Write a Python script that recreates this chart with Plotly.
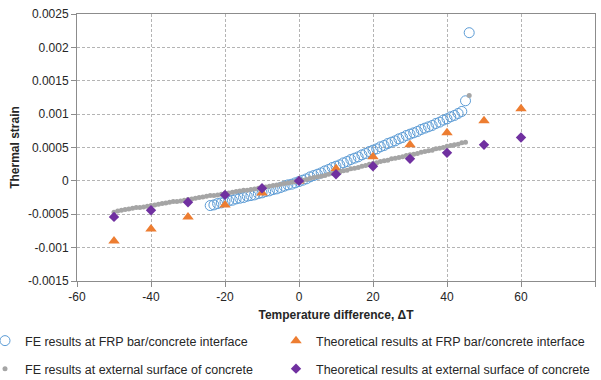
import plotly.graph_objects as go

# FE results at FRP bar/concrete interface (dense series, 1 °C step)
fe_int_x = list(range(-24, 45)) + [45, 46]
fe_int_y = [
    -0.00037, -0.00036, -0.00034, -0.00033, -0.00031, -0.00030, -0.00029, -0.00027,
    -0.00026, -0.00025, -0.00023, -0.00022, -0.00021, -0.00019, -0.00018, -0.00016,
    -0.00015, -0.00013, -0.00012, -0.00010, -0.00008, -0.00006, -0.00005, -0.00003,
    -0.00001, 0.00001, 0.00003, 0.00006, 0.00008, 0.00010, 0.00012, 0.00015,
    0.00017, 0.00020, 0.00022, 0.00024, 0.00027, 0.00029, 0.00032, 0.00034,
    0.00036, 0.00039, 0.00041, 0.00044, 0.00046, 0.00048, 0.00051, 0.00053,
    0.00056, 0.00058, 0.00060, 0.00063, 0.00065, 0.00068, 0.00070, 0.00072,
    0.00074, 0.00077, 0.00079, 0.00081, 0.00083, 0.00086, 0.00088, 0.00091,
    0.00093, 0.00096, 0.00098, 0.00101, 0.00104,
    0.00120, 0.00222,
]

# FE results at external surface of concrete (dense series, 1 °C step)
fe_ext_x = list(range(-50, 46)) + [46]
fe_ext_y = [
    -0.00047, -0.00045, -0.00044, -0.00043, -0.00042, -0.00041, -0.00040, -0.00040,
    -0.00039, -0.00038, -0.00037, -0.00036, -0.00035, -0.00034, -0.00033, -0.00032,
    -0.00031, -0.00031, -0.00030, -0.00029, -0.00028, -0.00027, -0.00026, -0.00025,
    -0.00024, -0.00023, -0.00022, -0.00022, -0.00021, -0.00020, -0.00019, -0.00018,
    -0.00017, -0.00016, -0.00015, -0.00014, -0.00014, -0.00013, -0.00012, -0.00011,
    -0.00010, -0.00009, -0.00008, -0.00007, -0.00006, -0.00005, -0.00004, -0.00003,
    -0.00002, -0.00001, 0.00000, 0.00001, 0.00002, 0.00004, 0.00005, 0.00006,
    0.00007, 0.00008, 0.00010, 0.00011, 0.00012, 0.00013, 0.00015, 0.00016,
    0.00018, 0.00019, 0.00020, 0.00022, 0.00023, 0.00025, 0.00026, 0.00027,
    0.00029, 0.00030, 0.00031, 0.00033, 0.00034, 0.00035, 0.00036, 0.00038,
    0.00039, 0.00040, 0.00041, 0.00043, 0.00044, 0.00045, 0.00046, 0.00048,
    0.00049, 0.00050, 0.00052, 0.00053, 0.00054, 0.00055, 0.00057, 0.00058,
    0.00128,
]

# Theoretical results
theo_x = [-50, -40, -30, -20, -10, 0, 10, 20, 30, 40, 50, 60]
theo_int_y = [-0.00090, -0.00072, -0.00054, -0.00036, -0.00018, 0.0,
              0.00018, 0.00036, 0.00054, 0.00072, 0.00090, 0.00108]
theo_ext_y = [-0.00054, -0.00044, -0.00032, -0.00021, -0.00011, 0.0,
              0.00010, 0.00022, 0.00033, 0.00042, 0.00054, 0.00065]

x_ticks = [-60, -40, -20, 0, 20, 40, 60, 80]
x_ticktext = ["-60", "-40", "-20", "0", "20", "40", "60", "80"]
y_ticks = [-0.0015, -0.001, -0.0005, 0, 0.0005, 0.001, 0.0015, 0.002, 0.0025]
y_ticktext = ["-0.0015", "-0.001", "-0.0005", "0", "0.0005", "0.001", "0.0015", "0.002", "0.0025"]

FONT = "Liberation Sans, Arial, sans-serif"

fig = go.Figure()
fig.add_trace(go.Scatter(
    x=fe_int_x, y=fe_int_y, mode="markers",
    name="FE results at FRP bar/concrete interface",
    marker=dict(symbol="circle-open", size=10, color="#5b9bd5", line=dict(width=1, color="#5b9bd5")),
    legend="legend",
))
fig.add_trace(go.Scatter(
    x=theo_x, y=theo_int_y, mode="markers",
    name="Theoretical results at FRP bar/concrete interface",
    marker=dict(symbol="triangle-up", size=10, color="#ed7d31"),
    legend="legend2",
))
fig.add_trace(go.Scatter(
    x=fe_ext_x, y=fe_ext_y, mode="markers",
    name="FE results at external surface of concrete",
    marker=dict(symbol="circle", size=5, color="#a5a5a5"),
    legend="legend3",
))
fig.add_trace(go.Scatter(
    x=theo_x, y=theo_ext_y, mode="markers",
    name="Theoretical results at external surface of concrete",
    marker=dict(symbol="diamond", size=8, color="#7030a0"),
    legend="legend4",
))

L, R, T, B = 77, 6, 14, 99
W, H = 601, 380
pw = W - L - R
ph = H - T - B

def px_to_paper_x(px):
    return (px - L) / pw

def px_to_paper_y(py):
    return (H - B - py) / ph

legend_common = dict(
    orientation="v", xref="paper", yref="paper", yanchor="middle", xanchor="left",
    itemwidth=30,
    font=dict(family=FONT, size=12.5, color="#262626"), bgcolor="rgba(0,0,0,0)",
)

col1, col2 = -15, 276
row1, row2 = 341, 369

fig.update_layout(
    width=W, height=H,
    margin=dict(l=L, r=R, t=T, b=B, autoexpand=False),
    paper_bgcolor="white", plot_bgcolor="white",
    font=dict(family=FONT, size=12, color="#262626"),
    legend=dict(legend_common, x=px_to_paper_x(col1), y=px_to_paper_y(row1)),
    legend2=dict(legend_common, x=px_to_paper_x(col2), y=px_to_paper_y(row1)),
    legend3=dict(legend_common, x=px_to_paper_x(col1), y=px_to_paper_y(row2)),
    legend4=dict(legend_common, x=px_to_paper_x(col2), y=px_to_paper_y(row2)),
    showlegend=True,
)

fig.update_xaxes(
    range=[-60, 80], tickvals=x_ticks, ticktext=x_ticktext,
    showgrid=True, gridcolor="#b4b4b4", griddash="3px,2px", gridwidth=1,
    zeroline=False, showline=True, linecolor="#8c8c8c", linewidth=1, mirror=True,
    ticks="outside", ticklen=5, tickcolor="#8c8c8c",
    tickfont=dict(family=FONT, size=12, color="#262626"),
    title=dict(text="<b>Temperature difference, ΔT</b>", standoff=7,
               font=dict(family=FONT, size=12, color="#262626")),
    automargin=False,
)
fig.update_yaxes(
    range=[-0.0015, 0.0025], tickvals=y_ticks, ticktext=y_ticktext,
    showgrid=True, gridcolor="#b4b4b4", griddash="3px,2px", gridwidth=1,
    zeroline=False, showline=True, linecolor="#8c8c8c", linewidth=1, mirror=True,
    ticks="outside", ticklen=5, tickcolor="#8c8c8c",
    tickfont=dict(family=FONT, size=12, color="#262626"),
    title=dict(text="<b>Thermal strain</b>", standoff=5,
               font=dict(family=FONT, size=12, color="#262626")),
    automargin=False,
)

fig.write_html("out.html")
